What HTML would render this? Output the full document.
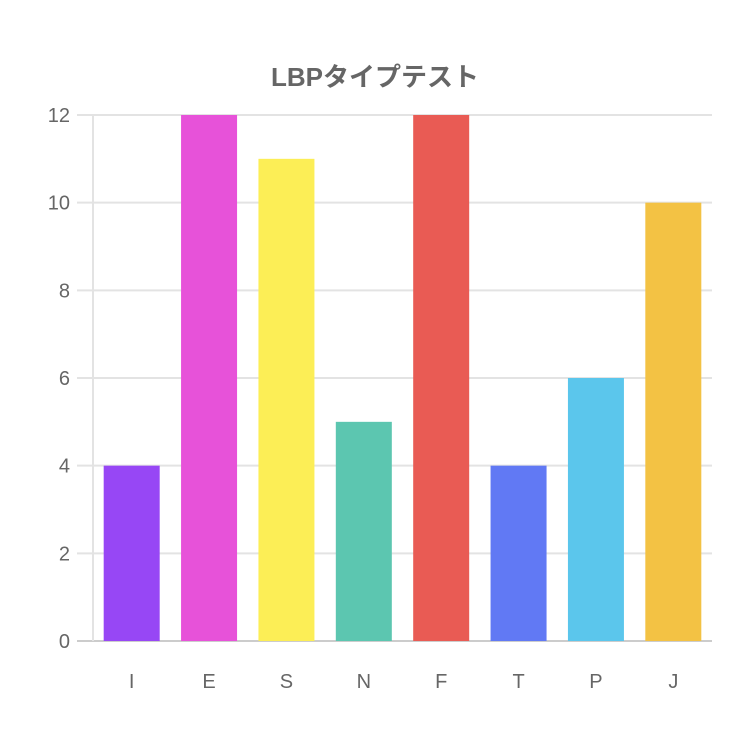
<!DOCTYPE html>
<html><head><meta charset="utf-8"><style>
html,body{margin:0;padding:0;background:#fff;}
svg text{font-family:"Liberation Sans","Noto Sans CJK JP",sans-serif;fill:#666;}
</style></head><body>
<svg id="chart" width="750" height="727" viewBox="0 0 750 727" xmlns="http://www.w3.org/2000/svg">
<text x="375" y="86" text-anchor="middle" font-size="26" font-weight="bold">LBPタイプテスト</text>
<g id="grid"></g><g id="bars"></g><g id="labels"></g>
</svg>
<script>
const categories = ["I","E","S","N","F","T","P","J"];
const values = [4,12,11,5,12,4,6,10];
const colors = ["#9747F5","#E752D9","#FCEE56","#5CC6B0","#E95B54","#6179F4","#5BC6EC","#F3C244"];
const yTicks = [0,2,4,6,8,10,12];
const L=93,R=712,T=115,B=641,yMax=12;
const y=v=>B-(v/yMax)*(B-T);
const step=(R-L)/categories.length;
const x=i=>L+step*(i+0.5);
const NS="http://www.w3.org/2000/svg";
const grid=document.getElementById('grid'),bars=document.getElementById('bars'),labels=document.getElementById('labels');
function mk(tag,attrs,parent){const e=document.createElementNS(NS,tag);for(const k in attrs)e.setAttribute(k,attrs[k]);parent.appendChild(e);return e;}
yTicks.forEach(t=>{
  const ln=mk('line',{x1:77,x2:R,y1:y(t),y2:y(t),stroke:t===0?'#cccccc':'#e3e3e3','stroke-width':2},grid);
  
  
  const tx=mk('text',{x:70,y:y(t)+7,'text-anchor':'end','font-size':20},labels);
  tx.textContent=t;
  
  
});
const ax=mk('line',{x1:L,x2:L,y1:T,y2:B,stroke:'#e3e3e3','stroke-width':2},grid);


categories.forEach((c,i)=>{
  const bw=56;
  const r=mk('rect',{x:x(i)-bw/2,y:y(values[i]),width:bw,height:B-y(values[i]),fill:colors[i]},bars);
  
  
  const tx=mk('text',{x:x(i),y:688,'text-anchor':'middle','font-size':20},labels);
  tx.textContent=c;
  
  
});
</script>
</body></html>
